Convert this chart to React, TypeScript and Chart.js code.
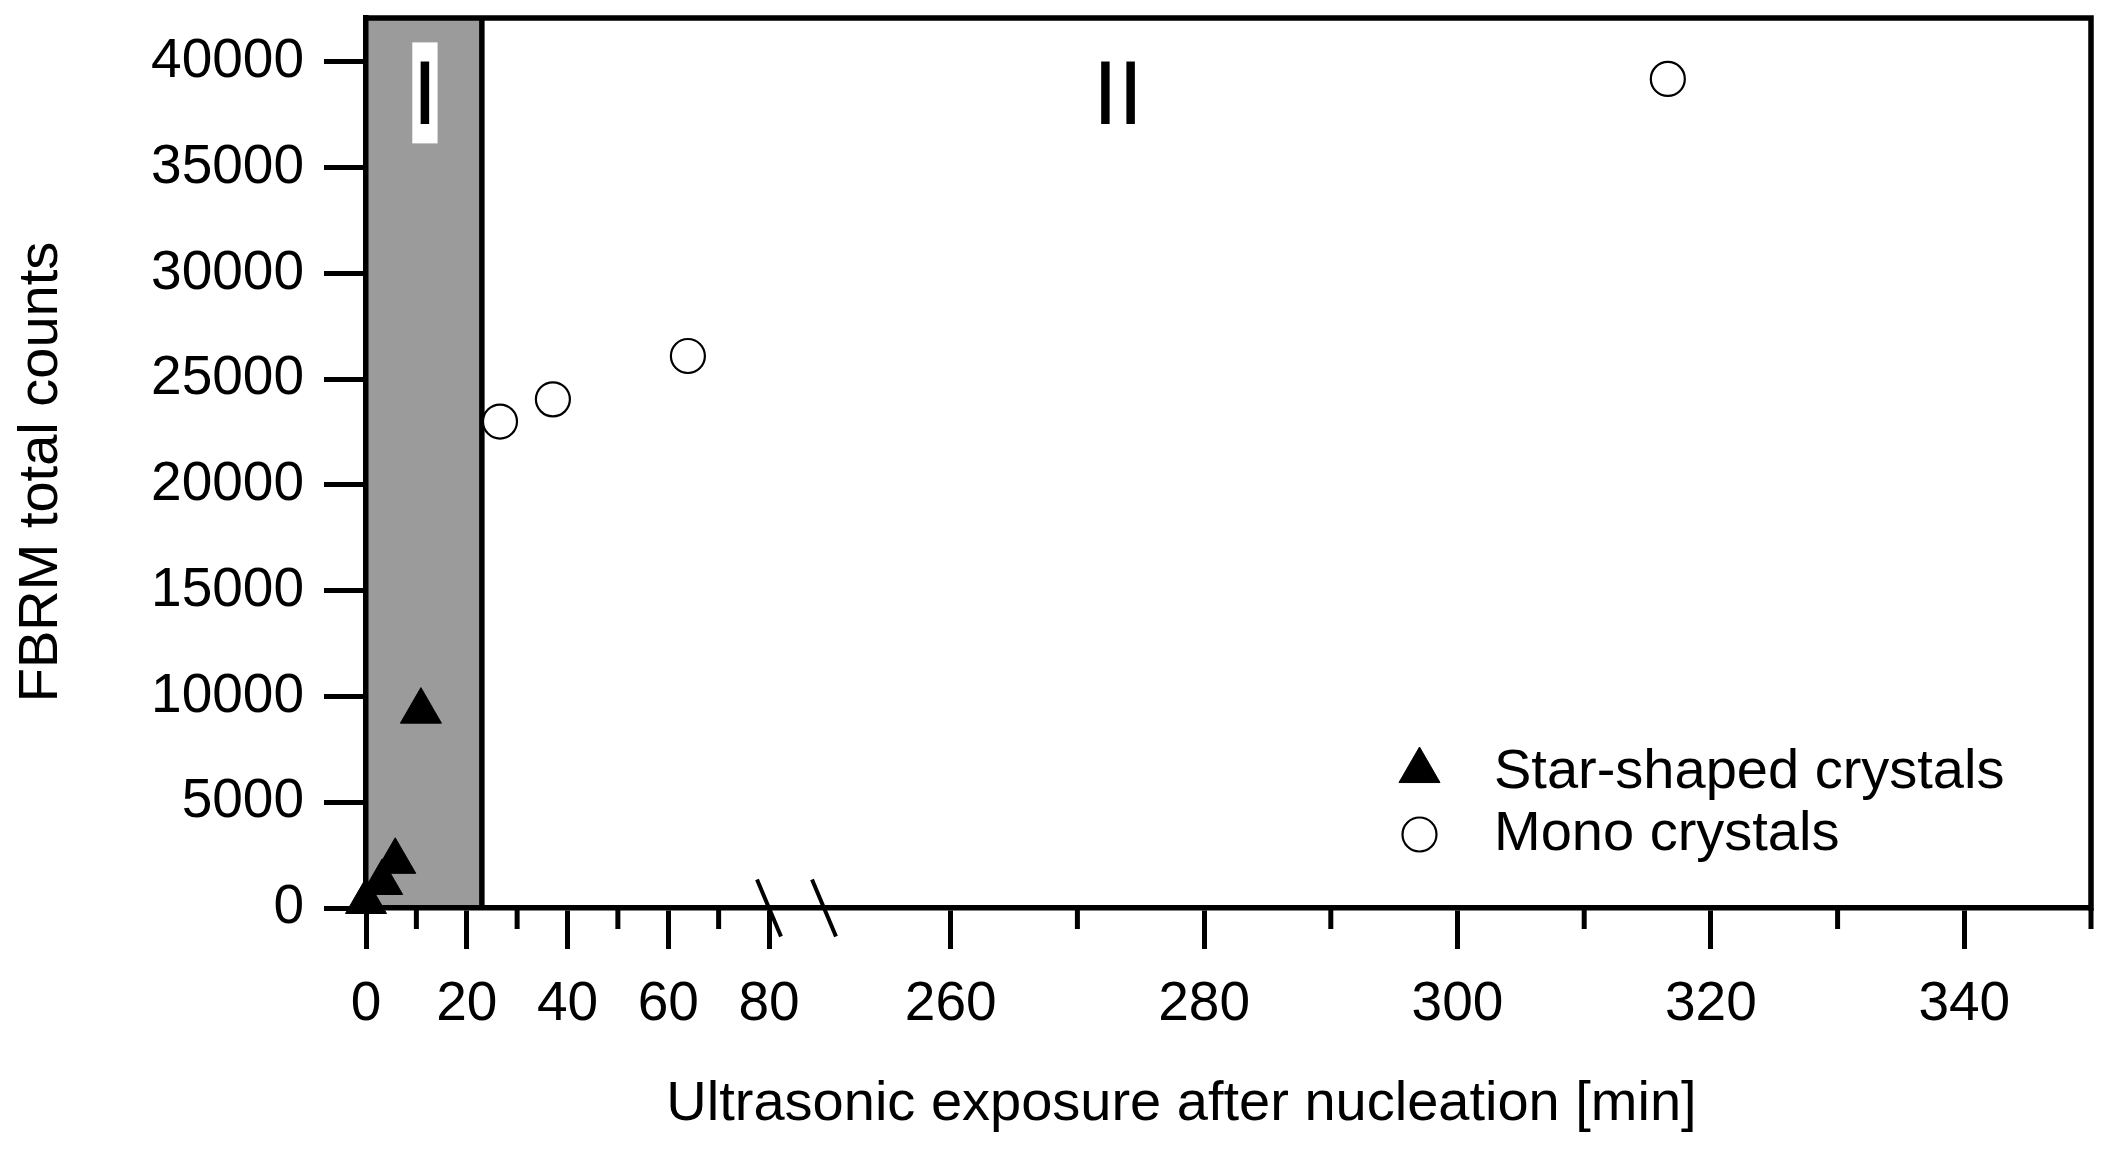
import React, { useEffect, useRef } from 'react';
import { Chart, LinearScale, registerables } from 'chart.js';
import { drawPoint } from 'chart.js/helpers';

// ---------------- data ----------------
const STAR_X = [0, 3.2, 5.8, 10.9];
const STAR_Y = [300, 1200, 2200, 9300];
const MONO_X = [26.6, 37.1, 63.9, 316.6];
const MONO_Y = [23000, 24050, 26100, 39200];

const SERIES_NAMES = ['Star-shaped crystals', 'Mono crystals'];

const X_MAJOR_TICKS = [0, 20, 40, 60, 80, 260, 280, 300, 320, 340];
const X_MINOR_TICKS = [10, 30, 50, 70, 270, 290, 310, 330, 350];
const Y_TICKS = [0, 5000, 10000, 15000, 20000, 25000, 30000, 35000, 40000];
const X_RANGE = [0, 350];
const X_BREAK = [80, 250];
const Y_RANGE = [0, 42080];

const REGION_I = [0, 23];
const REGION_LABELS = ['I', 'II'];
const REGION_LABEL_X = [11.7, 273.2];
const REGION_LABEL_Y = 37050;

const X_TITLE = 'Ultrasonic exposure after nucleation [min]';
const Y_TITLE = 'FBRM total counts';

// ---------------- styling ----------------
const FONT = "'Liberation Sans', Arial, sans-serif";
const LINE_W = 5.5;
const TICK_W = 5;
const GRAY = '#9b9b9b';
// fraction of axis length for left segment and gap of the broken axis
const LEFT_FRAC = 403 / 1725;
const GAP_FRAC = 55 / 1725;

class BrokenLinearScale extends LinearScale {
  static id = 'brokenLinear';
  static defaults = {};

  _decFor(v: number) {
    const [a, b] = X_BREAK;
    const min = this.min;
    const max = this.max;
    if (v <= a) return ((v - min) / (a - min)) * LEFT_FRAC;
    if (v >= b) return LEFT_FRAC + GAP_FRAC + ((v - b) / (max - b)) * (1 - LEFT_FRAC - GAP_FRAC);
    return LEFT_FRAC + ((v - a) / (b - a)) * GAP_FRAC;
  }

  getPixelForValue(value: any) {
    if (value === null || value === undefined || isNaN(+value)) return NaN;
    return this.getPixelForDecimal(this._decFor(+value));
  }

  getValueForPixel(pixel: number) {
    const d = this.getDecimalForPixel(pixel);
    const [a, b] = X_BREAK;
    const min = this.min;
    const max = this.max;
    if (d <= LEFT_FRAC) return min + (d / LEFT_FRAC) * (a - min);
    if (d >= LEFT_FRAC + GAP_FRAC)
      return b + ((d - LEFT_FRAC - GAP_FRAC) / (1 - LEFT_FRAC - GAP_FRAC)) * (max - b);
    return a + ((d - LEFT_FRAC) / GAP_FRAC) * (b - a);
  }
}

Chart.register(...registerables);
Chart.register(BrokenLinearScale as any);

const decorPlugin = {
  id: 'decor',
  beforeDraw(chart: any) {
    const { ctx, chartArea: ca, scales } = chart;
    const x = scales.x;
    ctx.save();
    ctx.fillStyle = '#ffffff';
    ctx.fillRect(0, 0, chart.width, chart.height);
    // shaded region I
    const x0 = x.getPixelForValue(REGION_I[0]);
    const x1 = x.getPixelForValue(REGION_I[1]);
    ctx.fillStyle = GRAY;
    ctx.fillRect(x0, ca.top, x1 - x0, ca.bottom - ca.top);
    ctx.strokeStyle = '#000';
    ctx.lineWidth = LINE_W;
    ctx.beginPath();
    ctx.moveTo(x1, ca.top);
    ctx.lineTo(x1, ca.bottom);
    ctx.stroke();
    // top & right frame
    ctx.beginPath();
    ctx.moveTo(ca.left - LINE_W / 2, ca.top);
    ctx.lineTo(ca.right, ca.top);
    ctx.lineTo(ca.right, ca.bottom + LINE_W / 2);
    ctx.stroke();
    ctx.restore();
  },
  beforeDatasetsDraw(chart: any) {
    const { ctx, chartArea: ca, scales } = chart;
    const x = scales.x;
    const y = scales.y;
    ctx.save();
    // minor x ticks
    ctx.strokeStyle = '#000';
    ctx.lineWidth = TICK_W;
    X_MINOR_TICKS.forEach((v) => {
      const px = x.getPixelForValue(v);
      ctx.beginPath();
      ctx.moveTo(px, ca.bottom);
      ctx.lineTo(px, ca.bottom + 21);
      ctx.stroke();
    });
    // axis break marks
    ctx.lineWidth = 4;
    X_BREAK.forEach((v) => {
      const px = x.getPixelForValue(v);
      ctx.beginPath();
      ctx.moveTo(px - 12, ca.bottom - 28.5);
      ctx.lineTo(px + 12, ca.bottom + 28.5);
      ctx.stroke();
    });
    // region labels
    ctx.font = `91px ${FONT}`;
    ctx.textAlign = 'center';
    ctx.textBaseline = 'alphabetic';
    REGION_LABELS.forEach((t, i) => {
      const px = x.getPixelForValue(REGION_LABEL_X[i]);
      const py = y.getPixelForValue(REGION_LABEL_Y);
      if (i === 0) {
        const m = ctx.measureText(t);
        const asc = m.fontBoundingBoxAscent ?? 82;
        const desc = m.fontBoundingBoxDescent ?? 19;
        ctx.fillStyle = '#ffffff';
        ctx.fillRect(px - m.width / 2, py - asc, m.width, asc + desc);
      }
      ctx.fillStyle = '#000';
      ctx.fillText(t, px, py);
    });
    ctx.restore();
  },
  afterDraw(chart: any) {
    const { ctx, chartArea: ca } = chart;
    ctx.save();
    ctx.fillStyle = '#000';
    ctx.strokeStyle = '#000';
    // legend
    const ds = chart.data.datasets;
    const symX = ca.right - 671.5;
    const textX = ca.right - 597;
    const baselines = [ca.bottom - 120, ca.bottom - 58];
    ds.forEach((d: any, i: number) => {
      const base = baselines[i];
      const cy = i === 0 ? base - 17.3 : base - 15.5;
      ctx.save();
      ctx.fillStyle = d.backgroundColor;
      ctx.strokeStyle = d.borderColor;
      ctx.lineWidth = d.borderWidth;
      drawPoint(ctx, { pointStyle: d.pointStyle, rotation: 0, radius: d.pointRadius, borderWidth: d.borderWidth }, symX, cy);
      ctx.restore();
      ctx.font = `56px ${FONT}`;
      ctx.textAlign = 'left';
      ctx.textBaseline = 'alphabetic';
      ctx.fillStyle = '#000';
      ctx.fillText(d.label, textX, base);
    });
    // axis titles
    ctx.font = `56px ${FONT}`;
    ctx.textAlign = 'center';
    ctx.textBaseline = 'alphabetic';
    ctx.fillText(X_TITLE, 1181.5, 1120);
    ctx.save();
    ctx.translate(57, 472);
    ctx.rotate(-Math.PI / 2);
    ctx.fillText(Y_TITLE, 0, 0);
    ctx.restore();
    ctx.restore();
  },
};

export default function App() {
  const ref = useRef<HTMLCanvasElement>(null);
  useEffect(() => {
    document.body.style.margin = '0';
    const canvas = ref.current!;
    const tickFont = { family: FONT, size: 55 };
    const chart = new Chart(canvas, {
      type: 'scatter',
      data: {
        datasets: [
          {
            label: SERIES_NAMES[0],
            data: STAR_X.map((x, i) => ({ x, y: STAR_Y[i] })),
            pointStyle: 'triangle',
            pointRadius: 23.7,
            pointHoverRadius: 23.7,
            backgroundColor: '#000000',
            borderColor: '#000000',
            borderWidth: 1,
            clip: false,
          } as any,
          {
            label: SERIES_NAMES[1],
            data: MONO_X.map((x, i) => ({ x, y: MONO_Y[i] })),
            pointStyle: 'circle',
            pointRadius: 17,
            pointHoverRadius: 17,
            backgroundColor: '#ffffff',
            borderColor: '#000000',
            borderWidth: 2.2,
            clip: false,
          } as any,
        ],
      },
      options: {
        animation: false,
        responsive: false,
        devicePixelRatio: 1,
        events: [],
        layout: { autoPadding: false, padding: { top: 18, right: 16, left: 0, bottom: 0 } },
        plugins: {
          legend: { display: false },
          tooltip: { enabled: false },
        },
        scales: {
          x: {
            type: 'brokenLinear' as any,
            min: X_RANGE[0],
            max: X_RANGE[1],
            afterBuildTicks: (scale: any) => {
              scale.ticks = X_MAJOR_TICKS.map((v) => ({ value: v }));
            },
            afterFit: (scale: any) => {
              scale.height = 244;
              scale.paddingLeft = 0;
              scale.paddingRight = 0;
            },
            ticks: {
              autoSkip: false,
              maxRotation: 0,
              minRotation: 0,
              padding: 23,
              color: '#000',
              font: tickFont,
              callback: (v: any) => String(v),
            },
            grid: {
              display: true,
              drawOnChartArea: false,
              drawTicks: true,
              tickLength: 41,
              tickWidth: TICK_W,
              tickColor: '#000',
              color: '#000',
            },
            border: { display: true, color: '#000', width: LINE_W },
          } as any,
          y: {
            type: 'linear',
            min: Y_RANGE[0],
            max: Y_RANGE[1],
            afterBuildTicks: (scale: any) => {
              scale.ticks = Y_TICKS.map((v) => ({ value: v }));
            },
            afterFit: (scale: any) => {
              scale.width = 366;
              scale.paddingTop = 0;
              scale.paddingBottom = 0;
            },
            ticks: {
              padding: 20,
              color: '#000',
              font: tickFont,
              callback: (v: any) => String(v),
            },
            grid: {
              display: true,
              drawOnChartArea: false,
              drawTicks: true,
              tickLength: 42,
              tickWidth: TICK_W,
              tickColor: '#000',
              color: '#000',
            },
            border: { display: true, color: '#000', width: LINE_W },
          } as any,
        },
      },
      plugins: [decorPlugin],
    });
    return () => chart.destroy();
  }, []);
  return (
    <canvas
      ref={ref}
      width={2107}
      height={1152}
      style={{ display: 'block', width: '2107px', height: '1152px' }}
    />
  );
}
